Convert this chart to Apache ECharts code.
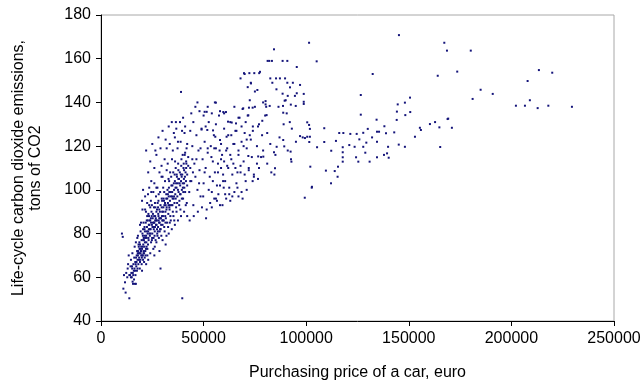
<!DOCTYPE html>
<html><head><meta charset="utf-8">
<script src="https://cdn.jsdelivr.net/npm/echarts/dist/echarts.min.js"></script>
<style>html,body{margin:0;padding:0;background:#fff}#c{width:644px;height:389px}</style>
</head><body><div id="c"></div>
<script>
// Axis ticks
const xTicks = [0, 50000, 100000, 150000, 200000, 250000];
const yTicks = [40, 60, 80, 100, 120, 140, 160, 180];

// Cheap cars: dense core (price in euro, life-cycle CO2 in tons)
const coreCloud = [
[10200,80],[10600,78.5],[10900,54.8],[11200,61],[11700,57.7],[12000,53],[12300,62],[12800,60],[13000,64],[13200,66],[13500,70],[13800,50.4],[13800,61],[14200,61],[14400,65],[14600,68],[14600,60],[14800,62],[15000,60],[15100,65],[15200,64],[15300,71],[15400,58],[15500,62],[15600,57],[15700,61],[15800,66],[16000,63],[16100,59],[16200,69],[16300,64],[16400,74],[16500,57],[16600,63],[16700,67],[16800,61],[16900,66],[17000,57],[17000,76],[17100,69],[17200,65],[17300,67],[17400,70],[17500,63],[17600,72],[17700,78],[17800,68],[17800,64],[17900,71],[18000,70],[18000,79],[18100,72],[18200,66],[18300,75],[18400,74],[18400,71],[18500,68],[18600,69],[18700,76],[18800,71],[18800,73],[18900,64],[19000,75],[19000,67],[19000,84],[19100,73],[19200,68],[19300,71],[19300,81],[19400,72],[19500,85],[19600,70],[19600,74],[19700,72],[19800,77],[19800,66],[19900,69],[20000,73],[20000,63],[20000,95],[20100,70],[20200,80],[20200,91],[20300,74],[20400,70],[20400,79],[20500,68],[20500,82],[20500,100],[20600,75],[20600,77],[20700,71],[20700,85],[20800,78],[20900,77],[20900,72],[21000,71],[21000,67],[21100,74],[21200,82],[21200,83],[21300,79],[21300,69],[21400,76],[21400,81],[21500,78],[21500,91],[21500,97],[21600,72],[21700,70],[21800,85],[21900,73],[21900,90],[22000,79],[22000,66],[22000,118],[22100,76],[22200,74],[22200,78],[22300,81],[22300,86],[22400,83],[22500,88],[22500,94],[22600,70],[22600,73],[22700,80],[22800,86],[22900,75],[22900,98],[23000,81],[23000,68],[23000,108],[23100,78],[23100,89],[23200,77],[23300,84],[23300,82],[23400,88],[23500,93],[23500,101],[23600,84],[23600,80],[23700,86],[23800,79],[23900,82],[24000,86],[24000,71],[24000,92],[24000,113],[24100,80],[24200,82],[24300,87],[24300,95],[24400,76],[24400,85],[24500,99],[24500,104],[24600,90],[24700,88],[24800,84],[24800,77],[24800,93],[24900,78],[25000,80],[25000,121],[25100,83],[25200,87],[25300,85],[25300,89],[25400,83],[25500,73],[25500,99],[25600,78],[25700,82],[25800,92],[25800,85],[25900,88],[26000,85],[26000,70],[26000,103],[26000,110],[26100,79],[26200,81],[26200,74],[26300,83],[26300,94],[26400,88],[26400,86],[26500,92],[26500,118],[26600,77],[26700,87],[26800,84],[26800,97],[26900,86],[27000,90],[27000,76],[27000,101],[27000,116],[27100,84],[27200,86],[27300,82],[27300,91],[27400,80],[27500,79],[27500,101],[27600,94],[27700,81],[27800,83],[27800,92],[27900,89],[28000,88],[28000,95],[28000,124],[28100,86],[28100,98],[28200,78],[28300,85],[28400,91],[28400,87],[28500,72],[28500,108],[28600,85],[28600,81],[28700,90],[28800,82],[28800,99],[28900,87],[29000,93],[29000,64],[29000,119],[29100,82],[29200,87],[29300,84],[29400,79],[29500,106],[29500,111],[29600,96],[29600,92],[29700,88],[29800,90],[29800,95],[29900,86],[30000,84],[30000,77],[30000,106],[30000,127],[30100,86],[30200,88],[30300,90],[30300,101],[30400,92],[30500,96],[30600,86],[30700,95],[30800,99],[30800,83],[30900,93],[31000,81],[31000,114],[31200,94],[31200,104],[31300,88],[31400,90],[31400,85],[31500,75],[31500,93],[31500,123],[31600,87],[31800,96],[31800,98],[31900,91],[31900,79],[32000,92],[32000,109],[32000,119],[32200,85],[32300,96],[32400,100],[32500,112],[32600,94],[32600,98],[32700,83],[32800,89],[32900,93],[32900,105],[33000,97],[33000,80],[33000,129],[33100,101],[33200,104],[33300,99],[33300,92],[33400,91],[33500,121],[33500,85],[33600,95],[33600,93],[33700,108],[33800,88],[33900,97],[34000,99],[34000,86],[34200,106],[34300,102],[34400,93],[34500,82],[34500,131],[34600,97],[34600,114],[34700,99],[34800,102],[34800,93],[34900,96],[35000,90],[35000,118],[35200,108],[35300,88],[35400,96],[35500,103],[35500,126],[35600,100],[35600,97],[35700,86],[35800,94],[35900,107],[36000,104],[36000,84],[36000,124],[36100,113],[36200,98],[36300,101],[36400,110],[36400,96],[36500,131],[36600,92],[36600,103],[36700,128],[36800,101],[36800,90],[36900,107],[37000,106],[37100,94],[37200,97],[37300,119],[37400,103],[37500,100],[37500,86],[37500,122],[37600,112],[37700,105],[37700,109],[37800,99],[38000,105],[38100,93],[38200,95],[38300,103],[38400,108],[38500,131],[38500,98],[38600,102],[38700,91],[38800,98],[38800,122],[38900,107],[39000,104],[39000,88],[39000,144.8],[39100,111],[39200,114],[39300,106],[39400,100],[39400,96],[39500,127],[39600,50.4],[39600,107],[39800,103],[39800,116],[39900,101],[40000,96],[40000,133],[40100,99],[40200,110],[40300,112],[40400,105],[40500,103],[40500,109],[40500,90],[40600,101],[40700,126],[40800,116],[40900,106],[41000,99],[41000,117],[41000,129],[41200,108],[41300,93],[41400,104],[41500,113],[41500,110],[41600,112],[41700,119],[41800,94],[42000,107],[42000,102],[42000,88]
];

// Mid-price cars
const midCloud = [
[42000,121],[42500,115],[42500,111],[43000,99],[43200,86],[43500,110],[43500,104],[43500,127],[44000,104],[44000,135],[44500,120],[44500,114],[44800,108],[45000,93],[45000,131],[45200,88],[45500,112],[46000,106],[46000,138],[46500,125],[46500,114],[47000,100],[47000,140],[47200,90],[47500,118],[47800,103],[48000,109],[48000,136],[48500,97],[48500,119],[49000,128],[49000,127.6],[49200,92],[49500,114],[49800,97],[50000,103],[50000,134],[50500,122],[50500,108],[50500,135.7],[51000,110],[51000,129],[51200,87],[51500,91],[51500,135.7],[51800,127.4],[52000,117],[52000,138],[52000,119],[52500,131],[52500,100],[53000,106],[53200,94],[53500,120],[53800,115],[54000,99],[54000,135],[54000,92],[54500,113],[54500,104],[54600,127.2],[55000,125],[55200,96],[55200,119],[55500,108],[55500,140],[55700,124.3],[56000,119],[56000,130],[56000,139.9],[56000,96],[56500,95],[56500,102],[57000,112],[57000,108],[57200,98],[57500,134],[57800,118],[58000,102],[58000,136],[58000,122.8],[58000,93],[58500,121],[58500,110],[58500,114],[59000,116],[59200,93],[59500,107],[59500,104],[59600,135.6],[59800,101],[60000,128],[60000,135],[60000,113]
];

// Upper mid-price cars
const upperCloud = [
[60500,104],[60500,98],[60900,135.6],[61000,118],[61000,96],[61200,124.3],[61500,111],[61500,119],[61900,131.2],[62000,125],[62000,110],[62500,98],[62500,101],[63000,131],[63000,95],[63000,116],[63500,114],[63500,125],[63700,130.8],[64000,107],[64000,97],[64500,121],[64500,112],[65000,138],[65000,99],[65000,121],[65500,110],[65500,127],[65800,130.4],[66000,127],[66000,103],[66500,101],[66500,108],[67000,116],[67000,97],[67000,118],[67000,133],[67500,133],[68000,108],[68000,151],[68000,111],[68500,122],[68500,99],[68500,129],[69000,137],[69000,96],[69300,137.3],[69500,113],[69500,120],[69700,153.4],[70000,126],[70000,153],[70000,107],[70500,104],[70500,131],[71000,119],[71000,100],[71000,123],[71500,134],[71500,147],[71800,134.1],[71800,115.5],[72000,110],[72000,109],[72100,137.6],[72300,153.4],[72500,141],[72500,125],[73000,123],[73000,149],[73100,148.7],[73500,115],[73900,137.6],[73900,104],[74000,129],[74000,127],[74500,107],[74500,106],[74700,153.4],[75000,138],[75000,145],[76000,120],[76000,112],[76200,145.7],[76500,105],[76500,129],[76600,115.3],[77000,130],[77000,110],[77100,153.4],[77500,154],[78000,115],[78500,125],[78600,131.6],[79000,140],[79000,118],[79100,115.2],[80000,134],[80200,140.6],[80200,139.1],[80500,138],[80700,134.2],[81000,126],[81000,112],[81200,159],[82000,159],[82200,138.4],[82500,151],[82500,121],[83000,108],[83300,159],[83500,149],[84300,164.3],[84300,117.2],[84500,107],[84800,109.9],[85000,116],[85300,151],[85500,146],[85600,119.7],[86500,138],[87000,124],[87200,151],[88500,159],[88500,144],[88700,138.4],[88800,135.3],[88800,122.8],[89000,130],[89300,119.9],[89500,140.8],[89700,151],[90000,141],[90500,135],[90800,159],[90800,149],[91000,143],[91000,118],[92000,131],[92100,146.9],[92400,117.5],[92500,139],[92600,114],[92800,112.9],[93000,128],[93500,149],[94500,143],[94900,138.4],[95000,122],[95400,156.2],[95400,144.2]
];

// Expensive cars
const premiumCars = [
[97000,148],[97000,124.6],[98300,124],[98800,143.9],[98800,140.3],[98800,139.3],[99300,96.4],[99400,123.7],[100500,130.9],[100500,124.3],[101400,167.3],[101400,129.7],[101500,121.9],[101800,127.9],[101800,124.3],[102000,110.6],[102700,101],[102800,101.4],[105100,158.8],[105300,119.5],[108800,128.2],[108800,121.9],[109600,108.8],[112100,103],[112200,117.9],[113900,108.6],[114500,122.4],[115300,106],[115500,110.6],[116100,126],[117800,119.5],[117800,117.2],[117800,114.9],[117800,112.9],[118100,126],[121000,120.5],[121500,125.6],[123600,119.7],[124300,114.9],[124600,125.6],[125400,112.9],[125900,123.1],[126600,143.4],[126600,134.4],[127800,126.1],[127800,119.7],[128800,117],[129300,121.6],[130000,127.9],[130900,112.9],[132100,124],[132400,153],[134300,132.1],[134500,126.6],[134500,122],[134500,114.9],[135500,126.6],[137900,116],[138100,129.1],[138900,125.9],[139400,116.7],[139900,119.7],[140200,114.7],[142900,126.3],[144100,132],[144200,135.8],[144600,139.1],[145100,120.7],[145200,170.8],[148100,139.9],[148100,119.7],[148300,134.2],[150600,142.2],[150700,135.6],[153000,124.3],[155400,128.4],[155900,127.4],[160300,130.1],[162800,131],[164100,152.2],[164900,128.6],[165300,119.6],[167300,167.3],[168600,163.7],[168900,132.4],[169200,132.6],[171000,128.4],[173600,154.1],[180200,163.7],[181100,141.6],[185000,145.8],[190900,143.9],[202200,138.5],[206600,138.5],[207900,149.8],[209000,141],[212800,137.4],[213400,154.8],[218000,138.5],[219900,153.6],[229500,138]
];

const allCars = coreCloud.concat(midCloud, upperCloud, premiumCars);

const chart = echarts.init(document.getElementById('c'), null, {renderer: 'canvas'});
const font = 'Liberation Sans, Arial, sans-serif';
chart.setOption({
  animation: false,
  backgroundColor: '#fff',
  grid: {left: 101, right: 30, top: 15, bottom: 68, show: true, borderColor: '#a8a8a8', borderWidth: 1},
  xAxis: {
    type: 'value', min: xTicks[0], max: xTicks[xTicks.length - 1], interval: xTicks[1] - xTicks[0],
    name: 'Purchasing price of a car, euro', nameLocation: 'middle', nameGap: 44,
    nameTextStyle: {fontFamily: font, fontSize: 16, color: '#000'},
    axisLine: {lineStyle: {color: '#000', width: 1}},
    axisTick: {show: true, length: 5, lineStyle: {color: '#000'}},
    axisLabel: {fontFamily: font, fontSize: 16, color: '#000', margin: 10, formatter: v => String(v)},
    splitLine: {show: false}
  },
  yAxis: {
    type: 'value', min: yTicks[0], max: yTicks[yTicks.length - 1], interval: yTicks[1] - yTicks[0],
    name: 'Life-cycle carbon dioxide emissions,\ntons of CO2', nameLocation: 'middle', nameGap: 57,
    nameTextStyle: {fontFamily: font, fontSize: 16, color: '#000', lineHeight: 17, align: 'center'},
    axisLine: {show: true, lineStyle: {color: '#000', width: 1}},
    axisTick: {show: true, length: 5, lineStyle: {color: '#000'}},
    axisLabel: {fontFamily: font, fontSize: 16, color: '#000', margin: 10, formatter: v => String(v)},
    splitLine: {show: false}
  },
  series: [{
    type: 'scatter',
    data: allCars,
    symbol: 'rect',
    symbolSize: 2,
    itemStyle: {color: '#14147a', opacity: 1}
  }]
});
</script></body></html>
